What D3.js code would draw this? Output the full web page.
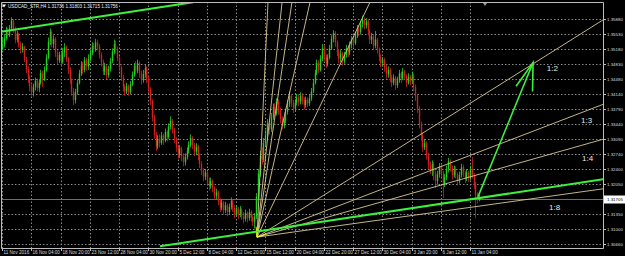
<!DOCTYPE html>
<html><head><meta charset="utf-8">
<script src="https://cdn.jsdelivr.net/npm/d3@7"></script>
<style>body{margin:0;background:#000}svg{display:block}</style>
</head><body>
<script>
// ---- data (H4 bars, open = previous close) ----
const firstOpen = 1.3518;
const closes = [
1.3528,1.3544,1.3562,1.3550,1.3566,1.3585,1.3563,1.3540,1.3552,1.3530,1.3517,1.3524,1.3494,1.3472,1.3450,1.3432,
1.3418,1.3430,1.3445,1.3428,1.3440,1.3462,1.3448,1.3470,1.3498,1.3535,1.3558,1.3530,1.3542,1.3510,1.3492,1.3505,
1.3488,1.3510,1.3522,1.3495,1.3470,1.3446,1.3420,1.3400,1.3418,1.3440,1.3462,1.3480,1.3470,1.3492,1.3478,1.3496,
1.3510,1.3526,1.3518,1.3534,1.3525,1.3505,1.3488,1.3466,1.3478,1.3458,1.3472,1.3490,1.3512,1.3530,1.3518,1.3498,
1.3476,1.3452,1.3430,1.3420,1.3432,1.3418,1.3436,1.3458,1.3478,1.3468,1.3486,1.3462,1.3446,1.3460,1.3475,1.3450,
1.3425,1.3398,1.3360,1.3320,1.3292,1.3310,1.3300,1.3318,1.3306,1.3326,1.3314,1.3338,1.3352,1.3330,1.3310,1.3290,
1.3275,1.3288,1.3270,1.3256,1.3268,1.3282,1.3296,1.3312,1.3296,1.3280,1.3292,1.3270,1.3252,1.3236,1.3222,1.3232,
1.3214,1.3200,1.3212,1.3196,1.3178,1.3186,1.3166,1.3150,1.3162,1.3144,1.3156,1.3140,1.3152,1.3166,1.3150,1.3136,
1.3148,1.3134,1.3146,1.3132,1.3124,1.3138,1.3126,1.3140,1.3128,1.3118,1.3130,1.3176,1.3230,1.3270,1.3262,1.3300,
1.3318,1.3346,1.3332,1.3360,1.3384,1.3370,1.3396,1.3376,1.3356,1.3340,1.3352,1.3372,1.3390,1.3410,1.3394,1.3380,
1.3394,1.3406,1.3396,1.3410,1.3400,1.3388,1.3400,1.3392,1.3404,1.3420,1.3440,1.3462,1.3486,1.3470,1.3496,1.3520,
1.3500,1.3484,1.3498,1.3520,1.3542,1.3556,1.3534,1.3512,1.3496,1.3508,1.3490,1.3504,1.3520,1.3510,1.3528,1.3540,
1.3532,1.3550,1.3566,1.3558,1.3576,1.3586,1.3574,1.3582,1.3560,1.3540,1.3548,1.3526,1.3540,1.3518,1.3500,1.3486,
1.3494,1.3476,1.3460,1.3470,1.3452,1.3440,1.3452,1.3434,1.3446,1.3462,1.3450,1.3466,1.3456,1.3440,1.3454,1.3444,
1.3458,1.3430,1.3410,1.3380,1.3344,1.3318,1.3290,1.3300,1.3272,1.3250,1.3238,1.3252,1.3230,1.3212,1.3228,1.3246,
1.3230,1.3206,1.3220,1.3240,1.3258,1.3244,1.3226,1.3240,1.3228,1.3212,1.3226,1.3244,1.3232,1.3218,1.3232,1.3220,
1.3240,1.3226,1.3204,1.3180,1.3168,1.3171];
const highs = [
1.3545,1.3552,1.3570,1.3568,1.3574,1.3592,1.3588,1.3570,1.3560,1.3556,1.3536,1.3532,1.3526,1.3500,1.3478,1.3458,
1.3440,1.3438,1.3452,1.3450,1.3448,1.3470,1.3468,1.3478,1.3506,1.3545,1.3566,1.3562,1.3550,1.3546,1.3515,1.3512,
1.3512,1.3520,1.3532,1.3526,1.3500,1.3476,1.3450,1.3428,1.3426,1.3448,1.3470,1.3490,1.3488,1.3500,1.3498,1.3506,
1.3518,1.3534,1.3532,1.3542,1.3540,1.3530,1.3510,1.3494,1.3486,1.3482,1.3480,1.3498,1.3520,1.3540,1.3538,1.3524,
1.3502,1.3480,1.3458,1.3436,1.3440,1.3436,1.3444,1.3466,1.3486,1.3490,1.3494,1.3490,1.3468,1.3470,1.3482,1.3478,
1.3455,1.3430,1.3402,1.3366,1.3326,1.3318,1.3320,1.3326,1.3322,1.3334,1.3330,1.3346,1.3362,1.3356,1.3336,1.3314,
1.3296,1.3296,1.3292,1.3276,1.3276,1.3290,1.3304,1.3320,1.3316,1.3300,1.3300,1.3296,1.3276,1.3258,1.3242,1.3240,
1.3236,1.3220,1.3220,1.3216,1.3200,1.3194,1.3190,1.3172,1.3170,1.3166,1.3164,1.3160,1.3160,1.3174,1.3170,1.3156,
1.3156,1.3152,1.3154,1.3150,1.3140,1.3146,1.3142,1.3148,1.3144,1.3134,1.3138,1.3184,1.3240,1.3282,1.3290,1.3312,
1.3330,1.3356,1.3352,1.3370,1.3392,1.3392,1.3404,1.3402,1.3382,1.3362,1.3360,1.3380,1.3400,1.3420,1.3414,1.3400,
1.3402,1.3414,1.3412,1.3418,1.3416,1.3406,1.3408,1.3406,1.3412,1.3428,1.3448,1.3470,1.3494,1.3492,1.3504,1.3530,
1.3526,1.3506,1.3506,1.3528,1.3550,1.3562,1.3560,1.3538,1.3518,1.3516,1.3512,1.3512,1.3528,1.3526,1.3536,1.3548,
1.3548,1.3558,1.3574,1.3574,1.3584,1.3596,1.3592,1.3590,1.3586,1.3564,1.3556,1.3552,1.3560,1.3544,1.3522,1.3506,
1.3500,1.3498,1.3482,1.3478,1.3474,1.3458,1.3460,1.3456,1.3454,1.3470,1.3466,1.3474,1.3470,1.3460,1.3462,1.3458,
1.3466,1.3462,1.3436,1.3414,1.3386,1.3350,1.3324,1.3310,1.3304,1.3278,1.3258,1.3260,1.3256,1.3236,1.3236,1.3254,
1.3252,1.3236,1.3228,1.3248,1.3266,1.3262,1.3248,1.3248,1.3246,1.3232,1.3234,1.3252,1.3250,1.3236,1.3240,1.3236,
1.3248,1.3268,1.3230,1.3210,1.3186,1.3180];
const lows = [
1.3515,1.3522,1.3538,1.3542,1.3546,1.3560,1.3556,1.3532,1.3534,1.3522,1.3508,1.3510,1.3488,1.3462,1.3440,1.3420,
1.3410,1.3408,1.3422,1.3420,1.3418,1.3436,1.3430,1.3444,1.3466,1.3494,1.3528,1.3522,1.3520,1.3500,1.3482,1.3486,
1.3480,1.3484,1.3500,1.3488,1.3460,1.3438,1.3410,1.3388,1.3392,1.3412,1.3436,1.3456,1.3460,1.3464,1.3468,1.3470,
1.3490,1.3504,1.3508,1.3512,1.3515,1.3496,1.3478,1.3458,1.3458,1.3448,1.3452,1.3466,1.3486,1.3506,1.3508,1.3490,
1.3466,1.3444,1.3420,1.3410,1.3414,1.3410,1.3414,1.3432,1.3454,1.3460,1.3462,1.3452,1.3436,1.3440,1.3452,1.3440,
1.3415,1.3388,1.3350,1.3310,1.3282,1.3286,1.3290,1.3296,1.3296,1.3302,1.3304,1.3310,1.3332,1.3322,1.3300,1.3280,
1.3264,1.3266,1.3258,1.3246,1.3248,1.3262,1.3276,1.3290,1.3286,1.3270,1.3272,1.3260,1.3242,1.3226,1.3212,1.3214,
1.3204,1.3190,1.3194,1.3186,1.3168,1.3170,1.3156,1.3140,1.3144,1.3134,1.3138,1.3130,1.3134,1.3146,1.3140,1.3126,
1.3130,1.3124,1.3128,1.3122,1.3114,1.3118,1.3116,1.3120,1.3118,1.3108,1.3102,1.3124,1.3170,1.3222,1.3250,1.3256,
1.3290,1.3310,1.3320,1.3326,1.3354,1.3360,1.3364,1.3366,1.3346,1.3332,1.3334,1.3346,1.3366,1.3384,1.3384,1.3370,
1.3374,1.3388,1.3386,1.3390,1.3390,1.3378,1.3382,1.3384,1.3386,1.3398,1.3416,1.3436,1.3458,1.3462,1.3466,1.3490,
1.3490,1.3474,1.3478,1.3494,1.3516,1.3534,1.3524,1.3502,1.3486,1.3488,1.3480,1.3484,1.3498,1.3500,1.3504,1.3520,
1.3522,1.3528,1.3544,1.3548,1.3552,1.3568,1.3564,1.3566,1.3550,1.3530,1.3530,1.3516,1.3520,1.3508,1.3490,1.3476,
1.3478,1.3466,1.3450,1.3452,1.3442,1.3430,1.3434,1.3424,1.3428,1.3440,1.3440,1.3446,1.3446,1.3430,1.3436,1.3434,
1.3440,1.3420,1.3398,1.3370,1.3334,1.3306,1.3280,1.3284,1.3262,1.3240,1.3228,1.3224,1.3214,1.3196,1.3204,1.3220,
1.3220,1.3172,1.3198,1.3214,1.3232,1.3234,1.3216,1.3220,1.3218,1.3202,1.3206,1.3220,1.3222,1.3208,1.3212,1.3210,
1.3214,1.3218,1.3194,1.3126,1.3160,1.3165];

const timeLabels = ["11 Nov 2016","16 Nov 04:00","18 Nov 20:00","23 Nov 12:00","28 Nov 04:00","30 Nov 20:00",
  "5 Dec 12:00","8 Dec 04:00","12 Dec 20:00","15 Dec 12:00","20 Dec 04:00","22 Dec 20:00","27 Dec 12:00",
  "30 Dec 04:00","3 Jan 20:00","6 Jan 12:00","11 Jan 04:00"];
const barsPerLabel = 16;
const priceTicks = [1.35880,1.35530,1.35180,1.34830,1.34480,1.34140,1.33790,1.33440,1.33090,1.32740,
  1.32400,1.32050,1.31700,1.31350,1.31000,1.30660];
const currentPrice = 1.31705;
const titleText = "USDCAD_STR,H4  1.31736 1.31803 1.31715 1.31756";

// drawn objects: [bar, price]
const fanOrigin = [139.5, 1.3082];
const fanEnds = [[145.5,1.3627],[153.2,1.3627],[158.6,1.3627],[168.5,1.3627],[201.3,1.3627],
                 [328.8,1.3586],[328.8,1.3390],[328.8,1.3309],[328.8,1.3194]];
const fanLabels = [["1:2",298,1.3468],["1:3",316.7,1.3346],["1:4",317.3,1.3259],["1:8",299.2,1.3146]];
const trendTop = [[-1.1,1.3558],[104.5,1.3627]];
const trendBottom = [[86.4,1.3061],[328.8,1.3216]];
const arrowShaft = [[260.4,1.3176],[290.5,1.3487]];
const arrowHead = [[281.2,1.3432],[290.5,1.3487],[290.2,1.3420]];

// ---- chart ----
const W = 625, H = 256;
const plot = {l:1, r:603, t:2, b:248};
const x = d3.scaleLinear().domain([0, 256]).range([2, 470]);
const y = d3.scaleLinear().domain([1.3066, 1.3588]).range([244, 19]);

const svg = d3.select("body").append("svg").attr("width", W).attr("height", H)
  .style("background", "#000");
svg.append("defs").append("clipPath").attr("id","clip").append("rect")
  .attr("x", plot.l).attr("y", plot.t).attr("width", plot.r - plot.l).attr("height", plot.b - plot.t);

const grid = svg.append("g").attr("stroke", "#8a8a8a").attr("stroke-dasharray", "1.5,2").attr("stroke-width", 1);
priceTicks.forEach(p => {
  const yy = Math.round(y(p)) + 0.5;
  grid.append("line").attr("x1", plot.l).attr("x2", plot.r).attr("y1", yy).attr("y2", yy);
});
timeLabels.forEach((t, k) => {
  const xx = Math.round(x(k * barsPerLabel)) + 0.5;
  grid.append("line").attr("x1", xx).attr("x2", xx).attr("y1", plot.t).attr("y2", plot.b);
});

const g = svg.append("g").attr("clip-path", "url(#clip)");
// bid line
g.append("line").attr("x1", plot.l).attr("x2", plot.r)
  .attr("y1", Math.round(y(currentPrice)) + 0.5).attr("y2", Math.round(y(currentPrice)) + 0.5)
  .attr("stroke", "#6e6e6e").attr("stroke-width", 1);

const bars = closes.map((c, i) => {
  const o = i === 0 ? firstOpen : closes[i - 1];
  return {i, o, c, h: Math.max(highs[i], o, c), l: Math.min(lows[i], o, c)};
});
const cg = g.append("g");
bars.forEach(b => {
  const col = b.c >= b.o ? "#1ed41e" : "#d42020";
  const xx = Math.round(x(b.i)) + 0.5;
  cg.append("line").attr("x1", xx).attr("x2", xx).attr("y1", y(b.h)).attr("y2", y(b.l))
    .attr("stroke", col).attr("stroke-width", 1).attr("opacity", 0.8);
  const y1 = y(Math.max(b.o, b.c)), y2 = y(Math.min(b.o, b.c));
  cg.append("rect").attr("x", xx - 0.7).attr("width", 1.4).attr("y", y1).attr("height", Math.max(1, y2 - y1))
    .attr("fill", col);
});

const line = d3.line().x(d => x(d[0])).y(d => y(d[1]));
// fan
fanEnds.forEach(e => {
  g.append("path").attr("d", line([fanOrigin, e])).attr("stroke", "#d8c896").attr("stroke-width", 0.9)
    .attr("fill", "none");
});
// anchor marker
g.append("path").attr("d", line([[139, 1.3106],[139.5, 1.3082],[144, 1.3088]]))
  .attr("stroke", "#ffff00").attr("stroke-width", 1).attr("fill", "none");
// trend lines
[trendTop, trendBottom].forEach(t => {
  g.append("path").attr("d", line(t)).attr("stroke", "#3cf03c").attr("stroke-width", 2).attr("fill", "none");
});
// arrow
g.append("path").attr("d", line(arrowShaft)).attr("stroke", "#3cf03c").attr("stroke-width", 1.6).attr("fill", "none");
g.append("path").attr("d", line(arrowHead)).attr("stroke", "#3cf03c").attr("stroke-width", 1.6).attr("fill", "none");

fanLabels.forEach(([t, b, p]) => {
  svg.append("text").attr("x", x(b)).attr("y", y(p)).text(t).attr("fill", "#e8e8e8")
    .attr("font-family", "Liberation Sans, Arial, sans-serif").attr("font-size", 8);
});

// frame
svg.append("path").attr("d", `M${plot.l+0.5},${plot.t+0.5}H${plot.r+0.5}V${plot.b+0.5}H${plot.l+0.5}Z`)
  .attr("stroke", "#bdbdbd").attr("fill", "none").attr("stroke-width", 1);

// title
svg.append("path").attr("d", "M2,4.5L6,4.5L4,7.5Z").attr("fill", "#fff");
svg.append("text").attr("x", 8).attr("y", 7.5).text(titleText).attr("fill", "#f0f0f0")
  .attr("font-family", "Liberation Sans, Arial, sans-serif").attr("font-size", 4.6);

// shift marker
svg.append("path").attr("d", `M${x(262)+2},3L${x(262)+6},3L${x(262)+4},6Z`).attr("fill", "#9a9a9a");

// price axis
const pa = svg.append("g").attr("font-family", "Liberation Sans, Arial, sans-serif").attr("font-size", 4.4)
  .attr("fill", "#dcdcdc");
priceTicks.forEach(p => {
  if (Math.abs(p - currentPrice) < 0.0002) return;
  const yy = Math.round(y(p)) + 0.5;
  svg.append("line").attr("x1", plot.r).attr("x2", plot.r + 3).attr("y1", yy).attr("y2", yy).attr("stroke", "#bdbdbd");
  pa.append("text").attr("x", 607).attr("y", yy + 1.5).text(p.toFixed(5));
});
const cy = Math.round(y(currentPrice)) + 0.5;
svg.append("rect").attr("x", 604).attr("y", cy - 4).attr("width", 21).attr("height", 8).attr("fill", "#fff");
svg.append("text").attr("x", 607).attr("y", cy + 1.6).text(currentPrice.toFixed(5)).attr("fill", "#000")
  .attr("font-family", "Liberation Sans, Arial, sans-serif").attr("font-size", 4.4);

// time axis
const ta = svg.append("g").attr("font-family", "Liberation Sans, Arial, sans-serif").attr("font-size", 4.6)
  .attr("fill", "#dcdcdc");
timeLabels.forEach((t, k) => {
  const xx = Math.round(x(k * barsPerLabel)) + 0.5;
  svg.append("line").attr("x1", xx).attr("x2", xx).attr("y1", plot.b).attr("y2", plot.b + 3).attr("stroke", "#bdbdbd");
  ta.append("text").attr("x", xx + 1).attr("y", 253.5).text(t);
});
</script>
</body></html>
